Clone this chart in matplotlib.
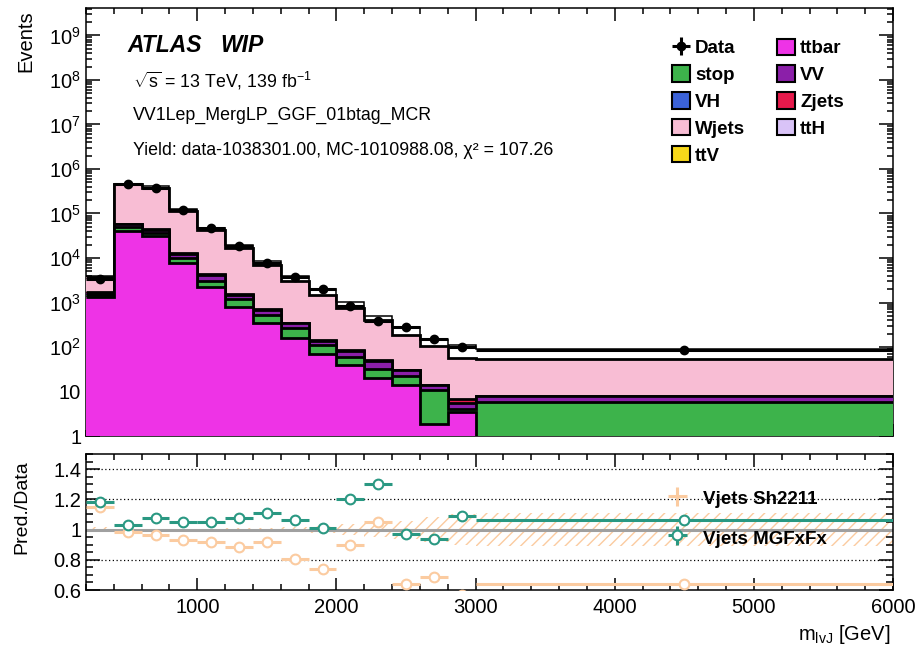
import numpy as np
import matplotlib
matplotlib.use('Agg')
import matplotlib.pyplot as plt
from matplotlib.ticker import LogLocator, MultipleLocator, NullFormatter, FuncFormatter, FixedLocator
from matplotlib.patches import Patch

plt.rcParams['font.family'] = ['Liberation Sans', 'DejaVu Sans']
plt.rcParams['mathtext.fontset'] = 'custom'
plt.rcParams['mathtext.rm'] = 'Liberation Sans'
plt.rcParams['mathtext.it'] = 'Liberation Sans:italic'
plt.rcParams['mathtext.bf'] = 'Liberation Sans:bold'
plt.rcParams['hatch.linewidth'] = 1.0

# m_lvJ binning [GeV]
edges = [200, 400, 600, 800, 1000, 1200, 1400, 1600, 1800, 2000, 2200, 2400, 2600, 2800, 3000, 6000]

data  = [3300, 455000, 380000, 120000, 46000, 18500, 7600, 3800, 2000, 850, 390, 285, 155, 100, 86]

# Sh2211 stack components
ttbar = [1330, 40500, 31200, 7720, 2230, 792, 346, 159, 70, 39, 20, 14, 1.9, 3.4, 0]
stop  = [180, 9000, 5300, 2300, 890, 408, 178, 108, 41, 21, 12, 8, 9, 0.6, 5.9]
vv    = [130, 8500, 6000, 2600, 1030, 313, 153, 79, 29, 21, 16, 8, 3, 1.5, 2.0]
zjets = [40, 1500, 1200, 300, 120, 50, 22, 10, 5, 3, 2, 1, 0.5, 1.3, 0]
wjets = [2108, 389600, 323400, 98560, 37870, 14790, 6260, 2710, 1335, 681, 360, 152, 91.6, 50.2, 47.4]

# total prediction with MGFxFx V+jets
mgfxfx = [3894, 468650, 408500, 126000, 48300, 19888, 8436, 4028, 2026, 1020, 507, 275.9, 144.9, 109, 91.2]

c_ttbar = '#ee33e6'
c_stop = '#3db34b'
c_vv = '#8b1fa9'
c_zjets = '#e5194b'
c_wjets = '#f8bdd4'
c_vh = '#3b62d8'
c_ttv = '#f7d81a'
c_tth = '#d9c3f7'
c_sh = '#fbcba0'
c_mg = '#2a9882'

x = np.array(edges, dtype=float)
centers = 0.5 * (x[1:] + x[:-1])
halfw = 0.5 * (x[1:] - x[:-1])
d = np.array(data, dtype=float)

fig = plt.figure(figsize=(9.15, 6.48), dpi=100)
ax = fig.add_axes([0.094, 0.327, 0.882, 0.661])
ax2 = fig.add_axes([0.094, 0.0895, 0.882, 0.2099], sharex=ax)

# stacked histogram, largest cumulative drawn first
comps = [(ttbar, c_ttbar), (stop, c_stop), (vv, c_vv), (zjets, c_zjets), (wjets, c_wjets)]
cum = np.cumsum([np.array(c[0], dtype=float) for c in comps], axis=0)
floor = 1e-2
for i in reversed(range(len(comps))):
    top = np.clip(cum[i], floor, None)
    z = 2 + (len(comps) - i)
    ax.stairs(top, x, baseline=floor, fill=True, color=comps[i][1], lw=0, zorder=z)
    ax.stairs(top, x, baseline=None, color='k', lw=2.0, zorder=z + 0.5)

ax.stairs(np.array(mgfxfx), x, baseline=None, color='k', lw=1.1, zorder=9)
ax.errorbar(centers, d, xerr=halfw, yerr=np.sqrt(d), fmt='o', color='k', ms=6,
            elinewidth=2.2, capsize=0, zorder=10)

ax.set_yscale('log')
ax.set_xlim(200, 6000)
ax.set_ylim(1, 10 ** 9.62)
ax.yaxis.set_major_locator(LogLocator(base=10, numticks=20))
ax.yaxis.set_minor_locator(LogLocator(base=10, subs=np.arange(2, 10), numticks=200))
ax.yaxis.set_minor_formatter(NullFormatter())


def logfmt(v, pos):
    n = int(round(np.log10(v)))
    if n == 0:
        return '1'
    if n == 1:
        return '10'
    return r'$10^{%d}$' % n


ax.yaxis.set_major_formatter(FuncFormatter(logfmt))

for a in (ax, ax2):
    a.xaxis.set_major_locator(MultipleLocator(1000))
    a.xaxis.set_minor_locator(MultipleLocator(200))
    a.tick_params(which='both', direction='in', top=True, right=True, labelsize=14.5, width=1.1)
    a.tick_params(axis='x', which='major', length=9)
    a.tick_params(axis='x', which='minor', length=4)
    for s in a.spines.values():
        s.set_linewidth(1.1)
ax.tick_params(axis='y', which='major', length=10)
ax.tick_params(axis='y', which='minor', length=4.5)
ax.tick_params(axis='x', labelbottom=False)

# labels
ax.text(0.051, 0.912, 'ATLAS', transform=ax.transAxes, fontsize=16.5, weight='bold',
        style='italic', va='center')
ax.text(0.166, 0.912, 'WIP', transform=ax.transAxes, fontsize=16.5, weight='bold',
        style='italic', va='center')
ax.text(0.058, 0.83, r'$\sqrt{\mathrm{s}}$ = 13 TeV, 139 fb$^{-1}$', transform=ax.transAxes,
        fontsize=12.8, va='center')
ax.text(0.058, 0.748, 'VV1Lep_MergLP_GGF_01btag_MCR', transform=ax.transAxes,
        fontsize=12.8, va='center')
ax.text(0.058, 0.666, 'Yield: data-1038301.00, MC-1010988.08, χ² = 107.26',
        transform=ax.transAxes, fontsize=12.8, va='center')

# legend
h_data = ax.errorbar([np.nan], [np.nan], xerr=[1], yerr=[1], fmt='o', color='k', ms=6,
                     elinewidth=2.2, label='Data')
handles = [h_data,
           Patch(facecolor=c_stop, edgecolor='k', lw=1.5, label='stop'),
           Patch(facecolor=c_vh, edgecolor='k', lw=1.5, label='VH'),
           Patch(facecolor=c_wjets, edgecolor='k', lw=1.5, label='Wjets'),
           Patch(facecolor=c_ttv, edgecolor='k', lw=1.5, label='ttV'),
           Patch(facecolor=c_ttbar, edgecolor='k', lw=1.5, label='ttbar'),
           Patch(facecolor=c_vv, edgecolor='k', lw=1.5, label='VV'),
           Patch(facecolor=c_zjets, edgecolor='k', lw=1.5, label='Zjets'),
           Patch(facecolor=c_tth, edgecolor='k', lw=1.5, label='ttH')]
ax.legend(handles=handles, ncol=2, loc='upper left', bbox_to_anchor=(0.726, 0.928),
          frameon=False, prop={'weight': 'bold', 'size': 13.5}, handlelength=0.96,
          handleheight=0.96, handletextpad=0.27, labelspacing=0.44, columnspacing=1.7,
          borderpad=0, borderaxespad=0)

# ratio panel
mc_total = cum[-1]
ratio_sh = mc_total / d
ratio_mg = np.array(mgfxfx) / d
err = 1.0 / np.sqrt(d)
err_ext = np.append(err, err[-1])
ax2.fill_between(x, 1 - err_ext, 1 + err_ext, step='post', facecolor='none',
                 edgecolor=c_sh, hatch='///', linewidth=0, zorder=1)
ax2.axhline(1.0, color='#a0a0a0', lw=2.2, zorder=2)
for yv in (0.8, 1.2, 1.4):
    ax2.axhline(yv, color='k', lw=0.9, ls=(0, (1, 2)), zorder=2)

ax2.errorbar(centers, ratio_sh, xerr=halfw, fmt='o', ms=7, mfc='white', mec=c_sh, mew=1.5,
             ecolor=c_sh, elinewidth=2.2, capsize=0, zorder=4)
ax2.errorbar(centers, ratio_mg, xerr=halfw, fmt='o', ms=7, mfc='white', mec=c_mg, mew=1.5,
             ecolor=c_mg, elinewidth=2.2, capsize=0, zorder=5)

ax2.set_ylim(0.6, 1.5)
ax2.yaxis.set_major_locator(FixedLocator([0.6, 0.8, 1.0, 1.2, 1.4]))
ax2.yaxis.set_minor_locator(MultipleLocator(0.05))
ax2.yaxis.set_major_formatter(FuncFormatter(lambda v, p: '%g' % round(v, 2)))
ax2.tick_params(axis='y', which='major', length=10)
ax2.tick_params(axis='y', which='minor', length=5)
ax2.tick_params(axis='x', which='major', pad=6)

h_sh = ax2.errorbar([np.nan], [np.nan], xerr=[1], yerr=[1], fmt='none', ecolor=c_sh,
                    elinewidth=2.2, label='Vjets Sh2211')
h_mg = ax2.errorbar([np.nan], [np.nan], xerr=[1], yerr=[1], fmt='o', ms=7, mfc='white',
                    mec=c_mg, mew=1.5, ecolor=c_mg, elinewidth=2.2, label='Vjets MGFxFx')
ax2.legend(handles=[h_sh, h_mg], loc='upper left', bbox_to_anchor=(0.714, 0.75),
           frameon=False, prop={'weight': 'bold', 'size': 13.5}, handlelength=1.6,
           handleheight=1.3, handletextpad=0.58, labelspacing=1.0, borderpad=0,
           borderaxespad=0)

fig.text(26 / 915, 1 - 10 / 648, 'Events', rotation=90, ha='center', va='top', fontsize=14.5)
fig.text(22 / 915, 1 - 507 / 648, 'Pred./Data', rotation=90, ha='center', va='center',
         fontsize=14)
fig.text(890 / 915, 1 - 634 / 648, r'm$_{\mathrm{lvJ}}$ [GeV]', ha='right', va='center',
         fontsize=14.5)

fig.savefig('out.png', dpi=100)
